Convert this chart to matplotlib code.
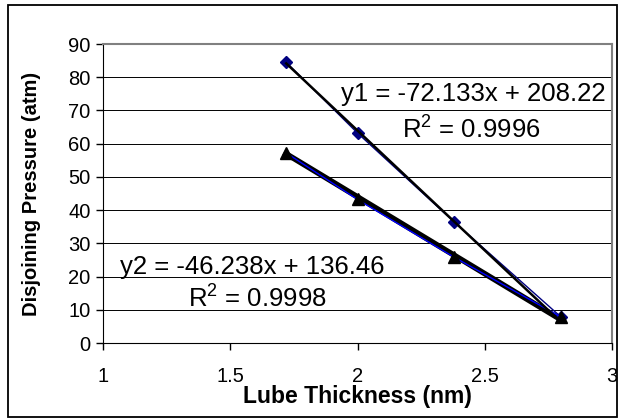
import numpy as np
import matplotlib
matplotlib.use("Agg")
import matplotlib.pyplot as plt
from matplotlib.patches import Rectangle

plt.rcParams['font.family'] = ['Liberation Sans', 'DejaVu Sans']
plt.rcParams['mathtext.fontset'] = 'custom'
plt.rcParams['mathtext.rm'] = 'Liberation Sans'

# measured points: lube thickness (nm) vs disjoining pressure (atm)
thickness = [1.72, 2.0, 2.38, 2.8]
pressure1 = [84.5, 63.2, 36.4, 7.8]
pressure2 = [57.2, 43.2, 25.8, 7.8]

# linear fits
fit1 = (-72.133, 208.22)
fit2 = (-46.238, 136.46)
eq1 = ["y1 = -72.133x + 208.22", "R$^2$ = 0.9996"]
eq2 = ["y2 = -46.238x + 136.46", "R$^2$ = 0.9998"]

x_ticks = [1, 1.5, 2, 2.5, 3]
x_labels = ['1', '1.5', '2', '2.5', '3']
y_ticks = [0, 10, 20, 30, 40, 50, 60, 70, 80, 90]

W, H = 619, 419
fig = plt.figure(figsize=(W / 100, H / 100), dpi=100)
fig.patch.set_facecolor('white')
fig.patches.append(Rectangle((8 / W, 2 / H), 609 / W, 412 / H, transform=fig.transFigure,
                             fill=False, edgecolor='black', lw=1.3))

ax = fig.add_axes([103 / W, (H - 343) / H, 509 / W, 299 / H])
ax.set_xlim(1, 3)
ax.set_ylim(0, 90)
ax.set_xticks(x_ticks)
ax.set_xticklabels(x_labels)
ax.set_yticks(y_ticks)

for y in y_ticks[1:]:
    ax.axhline(y, color='black', lw=0.7, zorder=1)

xs = np.array([thickness[0], thickness[-1]])
ax.plot(thickness, pressure1, color='#000080', lw=1, marker='D', ms=6.5,
        mfc='#000080', mec='#000080', zorder=3)
ax.plot(thickness, pressure2, color='#0000ff', lw=1, marker='^', ms=9,
        mfc='black', mec='black', zorder=3)
ax.plot(xs, fit1[0] * xs + fit1[1], color='black', lw=1.8, zorder=4)
ax.plot(xs, fit2[0] * xs + fit2[1], color='black', lw=4, zorder=2)

fs = 18.5
ax.text(2.975, 72.9, eq1[0], fontsize=fs, ha='right', va='baseline')
ax.text(2.175, 61.7, eq1[1], fontsize=fs, ha='left', va='baseline')
ax.text(1.067, 20.8, eq2[0], fontsize=fs, ha='left', va='baseline')
ax.text(1.334, 10.9, eq2[1], fontsize=fs, ha='left', va='baseline')

for s in ['left', 'bottom']:
    ax.spines[s].set_color('black')
for s in ['top', 'right']:
    ax.spines[s].set_color('#808080')
    ax.spines[s].set_linewidth(1.5)
ax.tick_params(direction='out', length=5, width=1, labelsize=14.5)
ax.tick_params(axis='x', pad=12)
ax.tick_params(axis='y', pad=4)

ax.set_xlabel('Lube Thickness (nm)', fontsize=16.5, fontweight='bold')
ax.xaxis.set_label_coords(0.5, -0.14, transform=ax.transAxes)
ax.set_ylabel('Disjoining Pressure (atm)', fontsize=14.5, fontweight='bold')
ax.yaxis.set_label_coords(-0.122, 0.5, transform=ax.transAxes)

fig.savefig('out.png', dpi=100)
